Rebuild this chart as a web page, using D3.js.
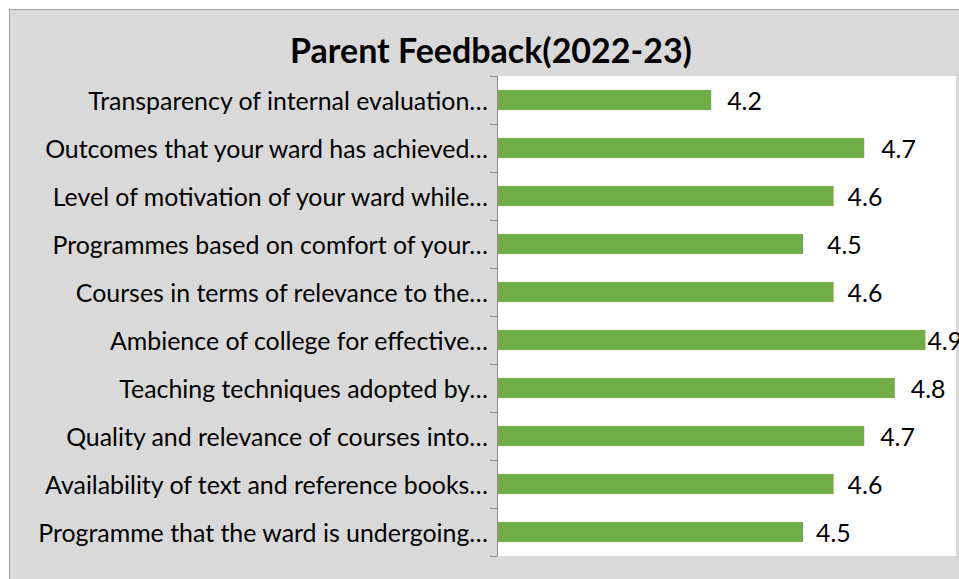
<!DOCTYPE html>
<html><head><meta charset="utf-8">
<script src="https://cdn.jsdelivr.net/npm/d3@7"></script>
<style>body{margin:0;background:#fff;overflow:hidden}</style>
</head><body>
<svg id="c" width="959" height="579"></svg>
<script>
const title = "Parent Feedback(2022-23)";
const categories = [
  "Transparency of internal evaluation…",
  "Outcomes that your ward has achieved…",
  "Level of motivation of your ward while…",
  "Programmes based on comfort of your…",
  "Courses in terms of relevance to the…",
  "Ambience of college for effective…",
  "Teaching techniques adopted by…",
  "Quality and relevance of courses into…",
  "Availability of text and reference books…",
  "Programme that the ward is undergoing…"
];
const values = [4.2, 4.7, 4.6, 4.5, 4.6, 4.9, 4.8, 4.7, 4.6, 4.5];
const xDomain = [3.5, 5.0];

// layout (not data)
const labelGap = [16, 17, 14, 24, 14, 2, 16, 16, 14, 13];
const plot = {left: 497, right: 956, top: 76, bottom: 556};
const font = "Lato, 'Open Sans', sans-serif";

const svg = d3.select("#c");
svg.append("rect").attr("x", 9.5).attr("y", 9.5).attr("width", 980).attr("height", 600)
  .attr("fill", "#d9d9d9").attr("stroke", "#a0a0a0").attr("stroke-width", 1);
svg.append("rect").attr("x", plot.left).attr("y", plot.top)
  .attr("width", plot.right - plot.left).attr("height", plot.bottom - plot.top).attr("fill", "#ffffff");

const x = d3.scaleLinear().domain(xDomain).range([plot.left, plot.right]);
const y = d3.scaleBand().domain(categories).range([plot.top, plot.bottom])
  .paddingInner(0.5833).paddingOuter(0.29165);

svg.append("g").selectAll("rect").data(values).join("rect")
  .attr("x", x(xDomain[0]))
  .attr("y", (d, i) => y(categories[i]))
  .attr("width", d => x(d) - x(xDomain[0]))
  .attr("height", y.bandwidth())
  .attr("fill", "#70ad47");

// axis line + ticks at band boundaries
const ax = svg.append("g").attr("stroke", "#8c8c8c").attr("stroke-width", 1);
ax.append("line").attr("x1", plot.left + 0.5).attr("x2", plot.left + 0.5)
  .attr("y1", plot.top).attr("y2", plot.bottom);
const step = y.step();
d3.range(categories.length + 1).forEach(i => {
  const yy = Math.round(plot.top + i * step) + 0.5;
  ax.append("line").attr("x1", plot.left - 7).attr("x2", plot.left).attr("y1", yy).attr("y2", yy);
});

// category labels
const labG = svg.append("g").attr("font-family", font).attr("fill", "#000");
const labs = labG.selectAll("text").data(categories).join("text")
  .attr("x", 488).attr("y", d => y(d) + y.bandwidth() / 2)
  .attr("text-anchor", "end").attr("dominant-baseline", "central")
  .attr("font-size", 18).text(d => d);
const w0 = labs.nodes()[0].getComputedTextLength();
const fs = 18 * 400 / w0;
labs.attr("font-size", fs);

// value labels
svg.append("g").attr("font-family", font).attr("fill", "#000")
  .selectAll("text").data(values).join("text")
  .attr("x", (d, i) => x(d) + labelGap[i])
  .attr("y", (d, i) => y(categories[i]) + y.bandwidth() / 2)
  .attr("dominant-baseline", "central").attr("font-size", fs)
  .text(d => d3.format(".1f")(d));

// title
const t = svg.append("text").attr("x", 491).attr("y", 63)
  .attr("text-anchor", "middle").attr("font-family", font).attr("font-weight", "bold")
  .attr("font-size", 24).attr("fill", "#000").text(title);
const tw = t.node().getComputedTextLength();
t.attr("font-size", 24 * 402 / tw);
</script>
</body></html>
